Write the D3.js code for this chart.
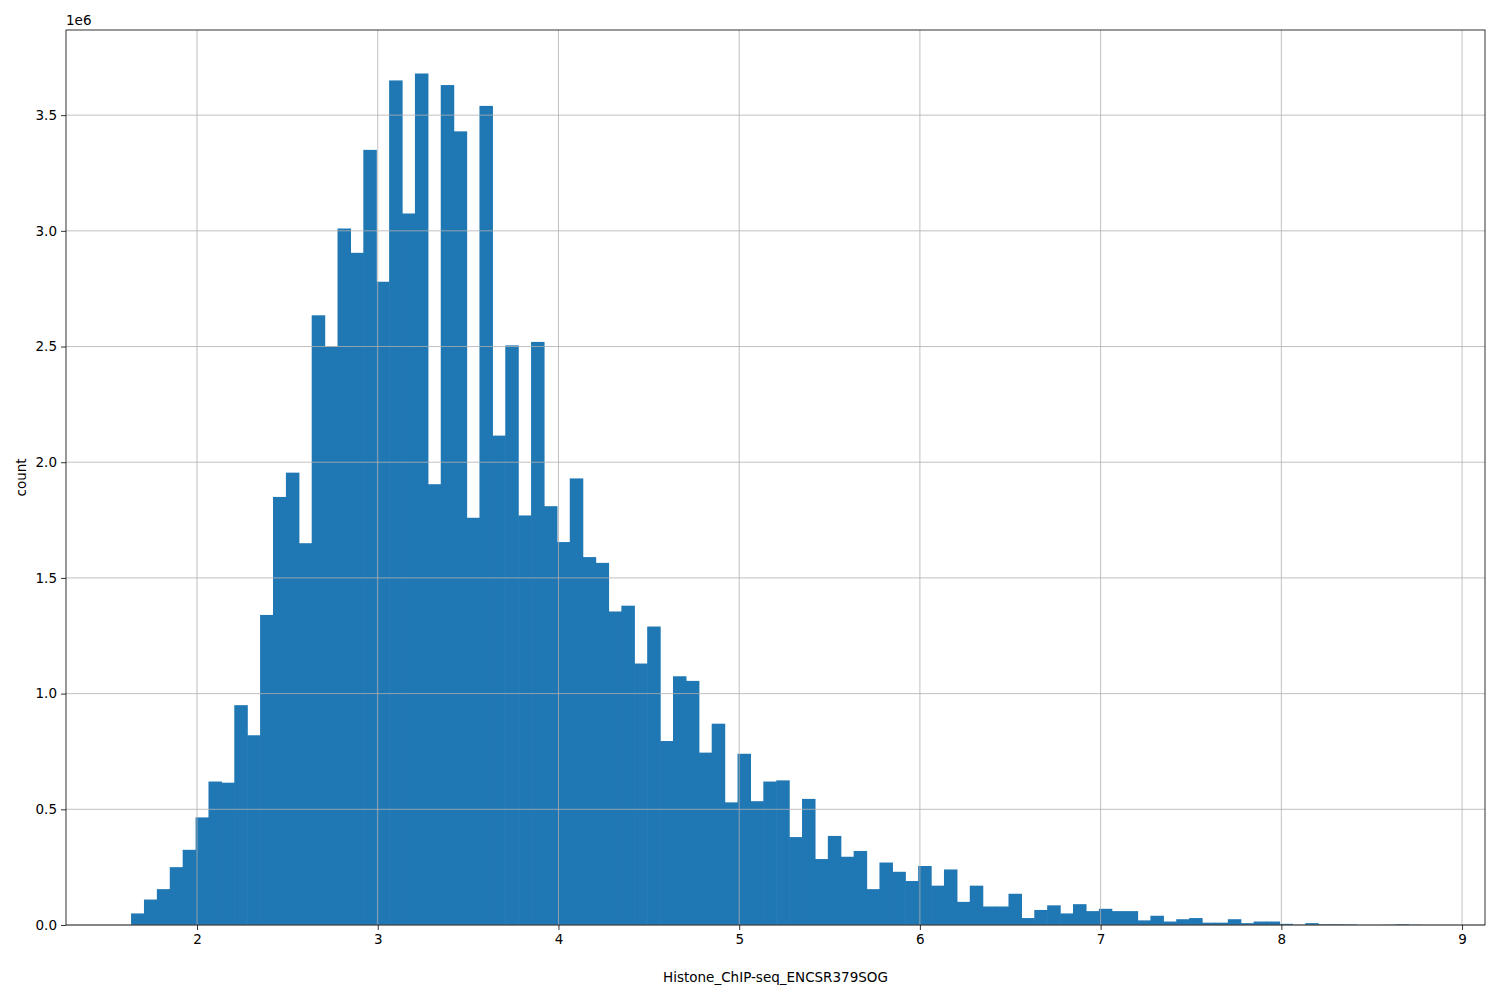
<!DOCTYPE html>
<html><head><meta charset="utf-8">
<script src="https://cdn.jsdelivr.net/npm/d3@7"></script>
<style>body{margin:0;background:#fff}text{font-family:"DejaVu Sans",sans-serif}</style>
</head><body><svg id="c" width="1500" height="1000"></svg>
<script>
const binStart = 1.635, binWidth = 0.0714;
const counts = [0.05,0.11,0.155,0.25,0.325,0.465,0.62,0.615,0.95,0.82,
1.34,1.85,1.955,1.65,2.635,2.50,3.01,2.905,3.35,2.78,
3.65,3.075,3.68,1.905,3.63,3.43,1.76,3.54,2.115,2.505,
1.77,2.52,1.81,1.655,1.93,1.59,1.565,1.355,1.38,1.13,
1.29,0.795,1.075,1.055,0.745,0.87,0.53,0.74,0.535,0.62,
0.625,0.38,0.545,0.285,0.385,0.295,0.32,0.155,0.27,0.23,
0.19,0.255,0.17,0.24,0.10,0.17,0.08,0.08,0.135,0.03,
0.065,0.085,0.05,0.09,0.06,0.07,0.06,0.06,0.02,0.04,
0.015,0.025,0.03,0.01,0.01,0.025,0.008,0.015,0.015,0.005,
0.001,0.008,0.003,0.003,0.002,0,0,0.001,0.003,0.001].map(v=>v*1e6);
const xTicks = [2,3,4,5,6,7,8,9];
const yTicks = [0,0.5e6,1e6,1.5e6,2e6,2.5e6,3e6,3.5e6];
const yTickLabels = ["0.0","0.5","1.0","1.5","2.0","2.5","3.0","3.5"];

const L=66,R=1485,T=30,B=925;
const svg=d3.select("#c");
const x=d3.scaleLinear().domain([1.275,9.127]).range([L,R]);
const y=d3.scaleLinear().domain([0,3.868e6]).range([B,T]);
const g=svg.append("g");
// bars
g.selectAll("rect.b").data(counts).join("rect")
 .attr("x",(d,i)=>x(binStart+i*binWidth)).attr("width",x(binStart+binWidth)-x(binStart)+0.6)
 .attr("y",d=>y(d)).attr("height",d=>B-y(d)).attr("fill","#1f77b4");
// grid (above bars, like matplotlib default)
g.selectAll(".gx").data(xTicks).join("line").attr("x1",d=>x(d)).attr("x2",d=>x(d)).attr("y1",T).attr("y2",B).attr("stroke","#b0b0b0").attr("stroke-width",0.8);
g.selectAll(".gy").data(yTicks).join("line").attr("y1",d=>y(d)).attr("y2",d=>y(d)).attr("x1",L).attr("x2",R).attr("stroke","#b0b0b0").attr("stroke-width",0.8);
// axes
const xa=svg.append("g").attr("transform",`translate(0,${B})`).call(d3.axisBottom(x).tickValues(xTicks).tickSize(5).tickPadding(4).tickFormat(d3.format("d")));
const ya=svg.append("g").attr("transform",`translate(${L},0)`).call(d3.axisLeft(y).tickValues(yTicks).tickSize(5).tickPadding(4).tickFormat((d,i)=>yTickLabels[i]));
[xa,ya].forEach(a=>{a.selectAll("text").attr("font-size",13.5).attr("font-family","DejaVu Sans").attr("fill","#000");a.select(".domain").remove();a.selectAll("line").attr("stroke","#000").attr("stroke-width",0.8);});
svg.append("rect").attr("x",L).attr("y",T).attr("width",R-L).attr("height",B-T).attr("fill","none").attr("stroke","#000").attr("stroke-width",0.8);
svg.append("text").attr("x",L).attr("y",25).attr("font-size",13.5).text("1e6");
svg.append("text").attr("x",(L+R)/2).attr("y",982).attr("text-anchor","middle").attr("font-size",13.5).text("Histone_ChIP-seq_ENCSR379SOG");
svg.append("text").attr("transform",`translate(26,${(T+B)/2}) rotate(-90)`).attr("text-anchor","middle").attr("font-size",13.5).text("count");
</script></body></html>
